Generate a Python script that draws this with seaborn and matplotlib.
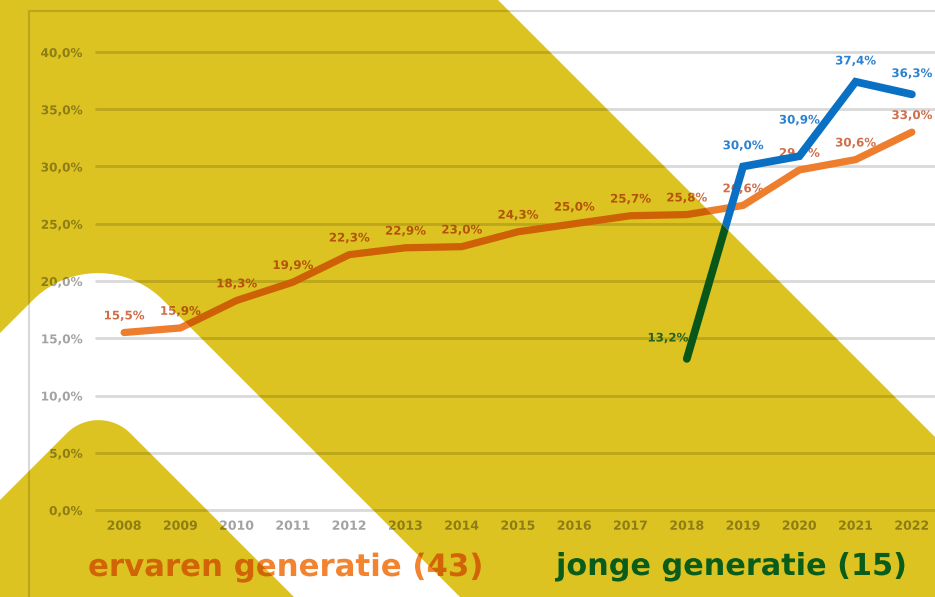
import numpy as np
import pandas as pd
import matplotlib
matplotlib.use("Agg")
import matplotlib.pyplot as plt
import matplotlib.colors as mcolors
from matplotlib.path import Path
from matplotlib.patches import PathPatch, Rectangle
from matplotlib.text import Text
from matplotlib import patheffects as pe
import seaborn as sns

# ---------------- data ----------------
years = [2008, 2009, 2010, 2011, 2012, 2013, 2014, 2015,
         2016, 2017, 2018, 2019, 2020, 2021, 2022]
ervaren = [15.5, 15.9, 18.3, 19.9, 22.3, 22.9, 23.0, 24.3,
           25.0, 25.7, 25.8, 26.6, 29.7, 30.6, 33.0]
jonge_years = [2018, 2019, 2020, 2021, 2022]
jonge = [13.2, 30.0, 30.9, 37.4, 36.3]
y_ticks = [0, 5, 10, 15, 20, 25, 30, 35, 40]
y_tick_labels = ["0,0%", "5,0%", "10,0%", "15,0%", "20,0%",
                 "25,0%", "30,0%", "35,0%", "40,0%"]
x_tick_labels = [str(y) for y in years]
series_names = ["ervaren generatie (43)", "jonge generatie (15)"]


def pct(v):
    return f"{v:.1f}%".replace(".", ",")


sns.set_theme(style="white")
plt.rcParams["font.family"] = ["DejaVu Sans"]

W, H, DPI = 935, 597, 100
fig = plt.figure(figsize=(W / DPI, H / DPI), dpi=DPI)
fig.patch.set_facecolor("white")

YELLOW = "#DCC321"
ORANGE_LINE = "#EF7D2E"
BLUE_LINE = "#0A70C4"
ORANGE_LBL = "#CF6E4A"
BLUE_LBL = "#2C82D2"
TICK = "#A3A3A3"
GRID = "#D9D9D9"
ORANGE_LEG = "#F2832F"
BLUE_LEG = "#0C78C8"


def plain(c):
    return mcolors.to_rgb(c)


def multiply(c):
    y = mcolors.to_rgb(YELLOW)
    r = mcolors.to_rgb(c)
    return tuple(a * b for a, b in zip(r, y))


# ---------------- decorative shapes (pixel coords, y down) ----------------
def to_fig(pts):
    return [(x / W, 1 - y / H) for x, y in pts]


def arc(V, r, start, end, n=48):
    cx, cy = V[0], V[1] + r * np.sqrt(2)
    ang = np.radians(np.linspace(start, end, n))
    return [(cx + r * np.cos(a), cy + r * np.sin(a)) for a in ang]


outer_arc = arc((98, 235), 92, -135, -45)
inner_arc = arc((98.5, 401.5), 45, -135, -45)

poly_A = [(-5, -5), (493, -5), (945, 447), (945, 607), (470, 607)] + outer_arc[::-1] + [(-5, 338)]
poly_inner = [(-5, 505)] + inner_arc + [(304, 607), (-5, 607)]
poly_tri = [(493, -5), (945, -5), (945, 447)]
poly_band = [(-5, 338)] + outer_arc + [(470, 607), (304, 607)] + inner_arc[::-1] + [(-5, 505)]


def mkpath(polys):
    verts, codes = [], []
    for p in polys:
        a = to_fig(p)
        verts.extend(a)
        verts.append(a[0])
        codes.extend([Path.MOVETO] + [Path.LINETO] * (len(a) - 1) + [Path.CLOSEPOLY])
    return Path(verts, codes)


yellow_path = mkpath([poly_A, poly_inner])
white_path = mkpath([poly_tri, poly_band])

fig.add_artist(PathPatch(yellow_path, transform=fig.transFigure,
                         facecolor=YELLOW, edgecolor="none", zorder=0))

rect = [96 / W, (H - 510) / H, 844 / W, 458 / H]
ax_w = fig.add_axes(rect, zorder=2)
ax_y = fig.add_axes(rect, zorder=3)

legend_texts = {}


def build(ax, tone, key):
    ax.set_facecolor("none")
    df_e = pd.DataFrame({"jaar": years, "pct": ervaren})
    df_j = pd.DataFrame({"jaar": jonge_years, "pct": jonge})
    sns.lineplot(data=df_e, x="jaar", y="pct", ax=ax, color=tone(ORANGE_LINE),
                 lw=5.2, solid_capstyle="round", solid_joinstyle="miter", zorder=3)
    sns.lineplot(data=df_j, x="jaar", y="pct", ax=ax, color=tone(BLUE_LINE),
                 lw=5.6, solid_capstyle="round", solid_joinstyle="miter", zorder=3.1)
    ax.set_xlim(2007.5, 2022.5)
    ax.set_ylim(0, 40)
    ax.set_yticks(y_ticks, y_tick_labels)
    ax.set_xticks(years, x_tick_labels)
    ax.tick_params(length=0, labelcolor=tone(TICK))
    ax.tick_params(axis="y", pad=9.5, labelsize=8.7)
    ax.tick_params(axis="x", pad=7, labelsize=9)
    for lab in ax.get_xticklabels() + ax.get_yticklabels():
        lab.set_fontweight("bold")
    ax.grid(axis="y", color=tone(GRID), lw=2.0)
    ax.grid(axis="x", visible=False)
    ax.set_xlabel("")
    ax.set_ylabel("")
    for s in ax.spines.values():
        s.set_visible(False)

    # data labels
    for yr, v in zip(years, ervaren):
        ax.annotate(pct(v), (yr, v), xytext=(0, 12), textcoords="offset points",
                    ha="center", va="center", fontsize=8.5, fontweight="bold",
                    color=tone(ORANGE_LBL), zorder=2.5)
    for yr, v in zip(jonge_years, jonge):
        dx, dy, ha = 0, 15, "center"
        if yr == jonge_years[0]:
            dx, dy, ha = 1, 15, "right"
        elif yr == jonge_years[2]:
            dy = 26
        ax.annotate(pct(v), (yr, v), xytext=(dx, dy), textcoords="offset points",
                    ha=ha, va="center", fontsize=8.5, fontweight="bold",
                    color=tone(BLUE_LBL), zorder=2.5)

    # chart border
    ax.add_patch(Rectangle((29 / W, -0.2), 1.3, 1.2 - 11 / H, transform=fig.transFigure,
                           fill=False, edgecolor=tone(GRID), lw=1.5))

    # series captions
    t1 = ax.text(88 / W, 1 - 576 / H, series_names[0], transform=fig.transFigure,
                 ha="left", va="baseline", fontsize=22, fontweight="bold",
                 color=tone(ORANGE_LEG))
    t2 = ax.text(556 / W, 1 - 575 / H, series_names[1], transform=fig.transFigure,
                 ha="left", va="baseline", fontsize=22, fontweight="bold",
                 color=tone(BLUE_LEG))
    legend_texts[key] = (t1, t2)


build(ax_w, plain, "w")
build(ax_y, multiply, "y")

fig.canvas.draw()
renderer = fig.canvas.get_renderer()
targets = (394, 350)
for i, target in enumerate(targets):
    t = legend_texts["w"][i]
    w = t.get_window_extent(renderer).width
    size = t.get_fontsize() * target / w
    legend_texts["w"][i].set_fontsize(size)
    legend_texts["y"][i].set_fontsize(size)

for ax, path in ((ax_w, white_path), (ax_y, yellow_path)):
    arts = list(ax.lines) + list(ax.texts) + list(ax.patches)
    for axis in (ax.xaxis, ax.yaxis):
        for t in axis.get_major_ticks():
            arts += [t.label1, t.gridline, t.tick1line]
    for a in arts:
        a.set_clip_on(True)
        a.set_clip_box(None)
        a.set_clip_path(path, fig.transFigure)
        if isinstance(a, Text):
            a.set_path_effects([pe.Normal()])

fig.savefig("out.png", dpi=DPI)
